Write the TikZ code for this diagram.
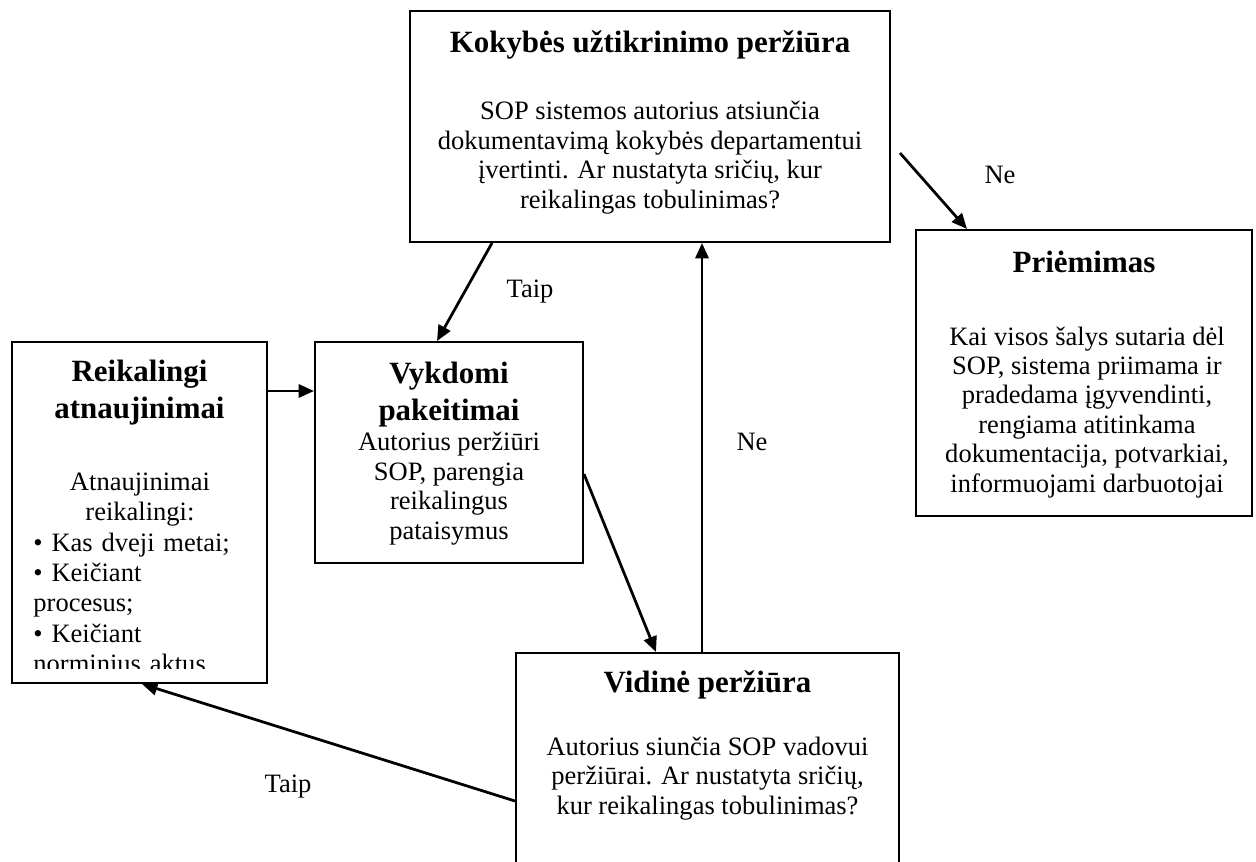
\documentclass[tikz,border=0pt]{standalone}
\usepackage{fontspec}
\setmainfont{Liberation Serif}
\usetikzlibrary{arrows.meta,calc,fit}

\begin{document}
\begin{tikzpicture}[x=0.4525pt,y=-0.4525pt,
  frame/.style={draw, line width=0.9pt, inner sep=0pt, rectangle},
  heading/.style={font=\fontsize{14}{16.5}\selectfont\bfseries, align=center, inner sep=0pt, anchor=base},
  body/.style={font=\fontsize{12}{13.3}\selectfont, align=center, inner sep=0pt, anchor=base},
  lbl/.style={font=\fontsize{12}{13.3}\selectfont, inner sep=0pt},
  link/.style={line width=1.25pt, -{Triangle[length=7pt,width=6pt]}}]

\useasboundingbox (0,0) rectangle (1256,861);
\clip (0,0) rectangle (1256,861);
\fill[white] (0,0) rectangle (1256,861);

% process boxes
\node[frame, fit={(410,11) (890,242)}] (kup) {};
\node[frame, fit={(916,230) (1252,516)}] (priem) {};
\node[frame, fit={(12,342) (267,683)}] (reik) {};
\node[frame, fit={(315,342) (583,563)}] (vykd) {};
\node[frame, fit={(516,653) (899,900)}] (vid) {};

% multi-line nodes sit on the baseline of their last line
% quality review
\node[heading] (kupT) at (650,52) {Kokybės užtikrinimo peržiūra};
\node[body] (kupB) at (650,208) {SOP sistemos autorius atsiunčia\\dokumentavimą kokybės departamentui\\įvertinti. Ar nustatyta sričių, kur\\reikalingas tobulinimas?};

% acceptance
\node[heading] (priemT) at (1084,272) {Priėmimas};
\node[body] (priemB) at (1087,492) {Kai visos šalys sutaria dėl\\SOP, sistema priimama ir\\pradedama įgyvendinti,\\rengiama atitinkama\\dokumentacija, potvarkiai,\\informuojami darbuotojai};

% required updates (last line runs past the text area and is cut off)
\node[heading] (reikT) at (139.5,418) {Reikalingi\\atnaujinimai};
\begin{scope}
  \clip (12,342) rectangle (267,668);
  \node[font=\fontsize{12}{13.8}\selectfont, inner sep=0pt, text width=96.4pt, align=left, anchor=base west] (reikB) at (33,490)
    {\makebox[\linewidth][c]{Atnaujinimai}\\
     \makebox[\linewidth][c]{reikalingi:}\\
     \textbullet\ Kas dveji metai;\\
     \textbullet\ Keičiant\\
     procesus;\\
     \textbullet\ Keičiant\\
     norminius aktus.};
\end{scope}

% changes
\node[heading] (vykdT) at (449,420) {Vykdomi\\pakeitimai};
\node[body] (vykdB) at (449,539) {Autorius peržiūri\\SOP, parengia\\reikalingus\\pataisymus};

% internal review
\node[heading] (vidT) at (707.5,692) {Vidinė peržiūra};
\node[body] (vidB) at (707.5,814) {Autorius siunčia SOP vadovui\\peržiūrai. Ar nustatyta sričių,\\kur reikalingas tobulinimas?};

% decision labels
\node[lbl] (taip1) at (530,292) {Taip};
\node[lbl] (ne1) at (752,442) {Ne};
\node[lbl] (taip2) at (288,787) {Taip};
\node[lbl] (ne2) at (1000,175) {Ne};

% connectors
\draw[link] ($(reik.north east)+(0,50)$) -- ($(vykd.north west)+(0,50)$);
\draw[link] ($(kup.south west)+(83,0)$) -- ($(vykd.north west)+(123,0)$);
\draw[link] ($(vykd.north east)+(0,133)$) -- ($(vid.north west)+(141,0)$);
\coordinate (up) at ($(vid.north west)+(187,0)$);
\draw[link] (up) -- (up |- kup.south);
\draw[link] ($(vid.north west)+(0,149)$) -- ($(reik.south west)+(131,0)$);
\coordinate (neStart) at (900,153);
\draw[link] (neStart) -- ($(priem.north west)+(52,0)$);
\end{tikzpicture}
\end{document}
